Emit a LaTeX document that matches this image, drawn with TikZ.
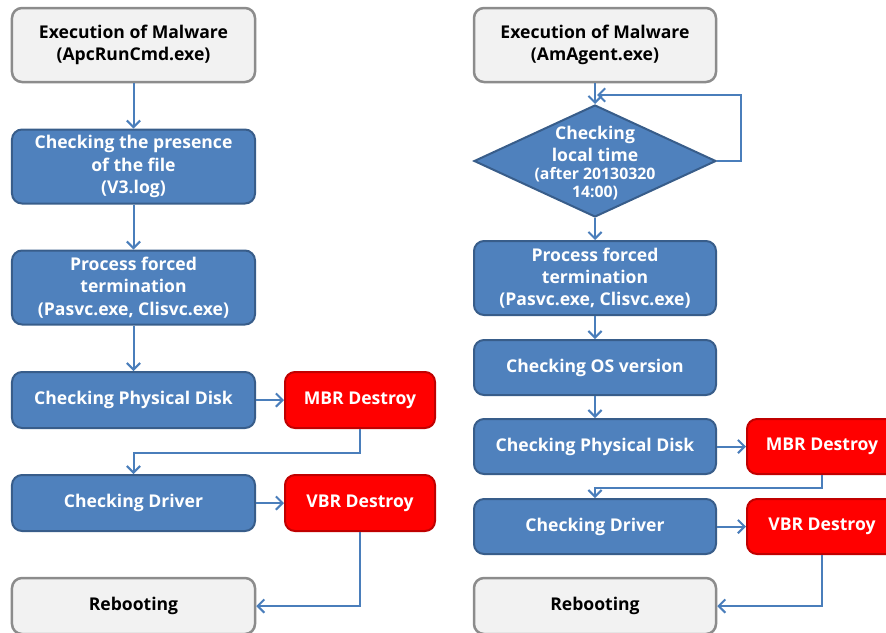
\documentclass[tikz,border=0pt]{standalone}
\usepackage{fontspec}
\setmainfont{Open Sans}
\usetikzlibrary{shapes.geometric,arrows.meta}

\definecolor{boxgray}{HTML}{F2F2F2}
\definecolor{edgegray}{HTML}{8C8C8C}
\definecolor{boxblue}{HTML}{4F81BD}
\definecolor{edgeblue}{HTML}{385D8A}
\definecolor{edgered}{HTML}{C00000}
\definecolor{linkblue}{HTML}{4A7EBB}

\tikzset{
  x=0.3mm, y=-0.3mm,
  every node/.style={font=\bfseries\fontsize{15}{19}\selectfont, align=center},
  graybox/.style={rectangle, rounded corners=3mm, draw=edgegray, line width=0.75mm,
    fill=boxgray, text=black, inner sep=0pt},
  bluebox/.style={rectangle, rounded corners=3mm, draw=edgeblue, line width=0.6mm,
    fill=boxblue, text=white, inner sep=0pt},
  redbox/.style={rectangle, rounded corners=3mm, draw=edgered, line width=0.6mm,
    fill=red, text=white, inner sep=0pt, minimum width=45mm, minimum height=16.8mm},
  conn/.style={draw=linkblue, line width=0.6mm, -{Straight Barb[length=2mm,width=4mm]}},
}

\begin{document}
\begin{tikzpicture}

  \clip (0,0) rectangle (886,632);

  % left flow
  \node[graybox, minimum width=72.9mm, minimum height=22.2mm] (exA) at (133.5,45)
    {Execution of Malware\\(ApcRunCmd.exe)};
  \node[bluebox, minimum width=72.9mm, minimum height=22.2mm] (chkA) at (133.5,166.5)
    {Checking the presence\\of the file\\(V3.log)};
  \node[bluebox, minimum width=72.9mm, minimum height=22.2mm] (prcA) at (133.5,287.5)
    {Process forced\\termination\\(Pasvc.exe, Clisvc.exe)};
  \node[bluebox, minimum width=72.9mm, minimum height=16.8mm] (pdA) at (133.5,400)
    {Checking Physical Disk};
  \node[redbox] (mbrA) at (360,400) {MBR Destroy};
  \node[bluebox, minimum width=72.9mm, minimum height=16.8mm] (drvA) at (133.5,503)
    {Checking Driver};
  \node[redbox] (vbrA) at (360,503) {VBR Destroy};
  \node[graybox, minimum width=72.9mm, minimum height=16.8mm] (rbtA) at (133.5,606)
    {Rebooting};

  \draw[conn] (exA) -- (chkA);
  \draw[conn] (chkA) -- (prcA);
  \draw[conn] (prcA) -- (pdA);
  \draw[conn] (pdA) -- (mbrA);
  \draw[conn] (mbrA.south) -- ++(0,24) -| (drvA.north);
  \draw[conn] (drvA) -- (vbrA);
  \draw[conn] (vbrA.south) |- (rbtA.east);

  % right flow
  \node[graybox, minimum width=72.6mm, minimum height=22.2mm] (exB) at (595,45)
    {Execution of Malware\\(AmAgent.exe)};
  \node[diamond, draw=edgeblue, line width=0.6mm, fill=boxblue, inner sep=0pt,
    minimum width=72.6mm, minimum height=33.6mm] (timeB) at (595,161) {};
  \node[text=white] at (595,163)
    {Checking\\local time\\[-4pt]{\fontsize{13.5}{16}\selectfont (after 20130320}\\[-4pt]
     {\fontsize{13.5}{16}\selectfont 14:00)}};
  \node[bluebox, minimum width=72.6mm, minimum height=22.2mm] (prcB) at (595,278)
    {Process forced\\termination\\(Pasvc.exe, Clisvc.exe)};
  \node[bluebox, minimum width=72.6mm, minimum height=16.5mm] (osB) at (595,367.5)
    {Checking OS version};
  \node[bluebox, minimum width=72.6mm, minimum height=16.5mm] (pdB) at (595,446.5)
    {Checking Physical Disk};
  \node[redbox, minimum height=16.5mm] (mbrB) at (822,446.5) {MBR Destroy};
  \node[bluebox, minimum width=72.6mm, minimum height=16.5mm] (drvB) at (595,526.5)
    {Checking Driver};
  \node[redbox, minimum height=16.5mm] (vbrB) at (822,526.5) {VBR Destroy};
  \node[graybox, minimum width=72.6mm, minimum height=16.8mm] (rbtB) at (595,606)
    {Rebooting};

  \coordinate (loopin) at (597,95);

  \draw[conn] (exB) -- (timeB.north);
  \draw[conn] (timeB.east) -- ++(24,0) |- (loopin);
  \draw[conn] (timeB.south) -- (prcB);
  \draw[conn] (prcB) -- (osB);
  \draw[conn] (osB) -- (pdB);
  \draw[conn] (pdB) -- (mbrB);
  \draw[conn] (mbrB.south) -- ++(0,13) -| (drvB.north);
  \draw[conn] (drvB) -- (vbrB);
  \draw[conn] (vbrB.south) |- (rbtB.east);

\end{tikzpicture}
\end{document}
